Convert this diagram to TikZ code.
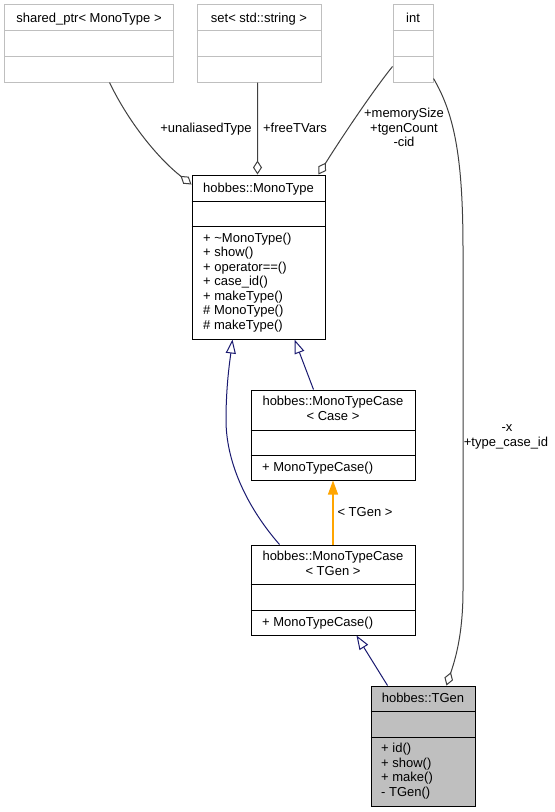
\documentclass[tikz,border=0pt]{standalone}
\usepackage{fontspec}
\setmainfont{Liberation Sans}
\usetikzlibrary{arrows.meta,calc}
\definecolor{edgegray}{HTML}{404040}
\definecolor{boxgray}{HTML}{BFBFBF}
\definecolor{navy}{HTML}{191970}
\definecolor{orangeedge}{HTML}{FFA500}
\tikzset{
  umlbox/.style={draw=black, line width=1bp, inner sep=0, rectangle},
  extbox/.style={draw=boxgray, line width=1bp, inner sep=0, rectangle},
  divline/.style={line width=1bp},
  lbl/.style={inner sep=0, anchor=base, font=\fontsize{13bp}{15bp}\selectfont},
  mlbl/.style={inner sep=0, anchor=base west, font=\fontsize{13bp}{15bp}\selectfont},
  usage/.style={draw=edgegray, line width=1bp, -{Diamond[open, length=14bp, width=9bp]}},
  inherit/.style={draw=navy, line width=1bp, -{Triangle[open, length=14bp, width=10bp]}},
  tmpl/.style={draw=orangeedge, line width=1.1bp, -{Triangle[length=14bp, width=10bp]}},
}
\begin{document}
\begin{tikzpicture}[x=1bp,y=-1bp]
\useasboundingbox[fill=white] (0,0) rectangle (555,812);
% boxes
\node[extbox, minimum width=168bp, minimum height=77bp] (sp) at (89,43.5) {};
\node[extbox, minimum width=124bp, minimum height=77bp] (set) at (259,43.5) {};
\node[extbox, minimum width=40bp, minimum height=77bp] (int) at (413,43.5) {};
\node[umlbox, minimum width=133bp, minimum height=164bp] (MT) at (258.5,257) {};
\node[umlbox, minimum width=164bp, minimum height=90bp] (Case) at (333,435) {};
\node[umlbox, minimum width=164bp, minimum height=90bp] (TGC) at (333,590) {};
\node[umlbox, fill=boxgray, minimum width=104bp, minimum height=120bp] (TGen) at (423,746) {};
% dividers
\foreach \n in {sp,set,int}{
  \draw[divline, draw=boxgray] (\n.west |- 0,31) -- (\n.east |- 0,31);
  \draw[divline, draw=boxgray] (\n.west |- 0,57) -- (\n.east |- 0,57);
}
\draw[divline] (MT.west |- 0,201) -- (MT.east |- 0,201);
\draw[divline] (MT.west |- 0,226) -- (MT.east |- 0,226);
\draw[divline] (Case.west |- 0,430) -- (Case.east |- 0,430);
\draw[divline] (Case.west |- 0,455) -- (Case.east |- 0,455);
\draw[divline] (TGC.west |- 0,584) -- (TGC.east |- 0,584);
\draw[divline] (TGC.west |- 0,610) -- (TGC.east |- 0,610);
\draw[divline] (TGen.west |- 0,711) -- (TGen.east |- 0,711);
\draw[divline] (TGen.west |- 0,737) -- (TGen.east |- 0,737);
% titles
\node[lbl] (tsp) at (89,22.5) {shared\_ptr< MonoType >};
\node[lbl] (tset) at (259,22.5) {set< std::string >};
\node[lbl] (tint) at (413,22.5) {int};
\node[lbl] (tMT) at (258.5,192.5) {hobbes::MonoType};
\node[lbl] (tCase1) at (333,405.5) {hobbes::MonoTypeCase};
\node[lbl] (tCase2) at (333,420.5) {< Case >};
\node[lbl] (tTGC1) at (333,560.5) {hobbes::MonoTypeCase};
\node[lbl] (tTGC2) at (333,575.5) {< TGen >};
\node[lbl] (tTGen) at (423,702) {hobbes::TGen};
% members
\node[mlbl] (m1) at (203,242) {+ \textasciitilde MonoType()};
\node[mlbl] (m2) at (203,256.5) {+ show()};
\node[mlbl] (m3) at (203,271) {+ operator==()};
\node[mlbl] (m4) at (203,285.5) {+ case\_id()};
\node[mlbl] (m5) at (203,300) {+ makeType()};
\node[mlbl] (m6) at (203,314.5) {\# MonoType()};
\node[mlbl] (m7) at (203,329) {\# makeType()};
\node[mlbl] (c1) at (262,471.5) {+ MonoTypeCase()};
\node[mlbl] (g1) at (262,626.5) {+ MonoTypeCase()};
\node[mlbl] (t1) at (381,752.5) {+ id()};
\node[mlbl] (t2) at (381,767) {+ show()};
\node[mlbl] (t3) at (381,781.5) {+ make()};
\node[mlbl] (t4) at (381,796) {- TGen()};
% usage edges
\draw[usage] ($(sp.south west)+(105,0)$) .. controls (130,125) and (160,160) .. ($(MT.north west)+(0,10)$);
\draw[usage] ($(set.south west)+(61,0)$) -- ($(MT.north west)+(66,0)$);
\draw[usage] ($(int.south west)+(0,-16)$) .. controls (372,92) and (340,140) .. ($(MT.north east)+(-7,0)$);
\draw[usage] ($(int.south east)+(0,-4)$) .. controls (455,115) and (463,160) .. (463,250)
   -- (463,590) .. controls (463,635) and (455,660) .. ($(TGen.north west)+(76,0)$);
\node[lbl] (lsp) at (206,132.5) {+unaliasedType};
\node[lbl] (lset) at (295,132.5) {+freeTVars};
\node[lbl] (lint1) at (404,117.5) {+memorySize};
\node[lbl] (lint2) at (404,132) {+tgenCount};
\node[lbl] (lint3) at (404,146.5) {-cid};
\node[lbl] (lx1) at (507,431.5) {-x};
\node[lbl] (lx2) at (506,446.5) {+type\_case\_id};
% inheritance edges
\draw[inherit] ($(Case.north west)+(63,0)$) -- ($(MT.south west)+(103,0)$);
\draw[inherit] ($(TGC.north west)+(29,0)$) .. controls (245,505) and (226,460) .. (226,420)
   .. controls (226,385) and (230,360) .. ($(MT.south west)+(41,0)$);
\draw[inherit] ($(TGen.north west)+(17,0)$) -- ($(TGC.south west)+(106,0)$);
\draw[tmpl] (TGC.north) -- (Case.south);
\node[lbl] (ltg) at (365,516.5) {< TGen >};
\end{tikzpicture}
\end{document}
